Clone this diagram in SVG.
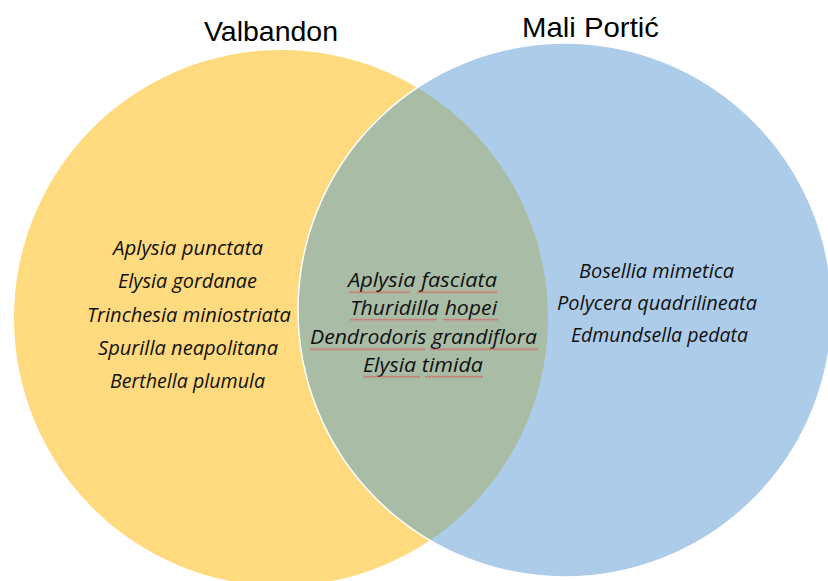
<svg xmlns="http://www.w3.org/2000/svg" width="828" height="581" viewBox="0 0 828 581">
  <style>
    .title { font-family: "Liberation Sans", Arial, sans-serif; font-size: 28px; fill: #000; }
    .sp { font-family: "Open Sans", "Noto Sans", sans-serif; font-style: italic; font-size: 20px; fill: #111; }
    .wave { fill: url(#wave); }
  </style>
  <defs>
    <clipPath id="clipBlue">
      <ellipse cx="565" cy="310" rx="267" ry="267"/>
    </clipPath>
    <pattern id="wave" x="0" y="0" width="4" height="3" patternUnits="userSpaceOnUse">
      <path d="M0 0.6 L2 2.4 L4 0.6" fill="none" stroke="#E04646" stroke-width="0.9"/>
    </pattern>
  </defs>
  <rect width="828" height="581" fill="#FFFFFF"/>

  <g id="set-valbandon">
    <ellipse cx="281" cy="318" rx="267" ry="268" fill="#FFDA7E"/>
  </g>
  <g id="set-mali-portic">
    <ellipse cx="565" cy="310" rx="267" ry="267" fill="#ADCCEA"/>
  </g>
  <g id="intersection">
    <ellipse cx="281" cy="318" rx="267" ry="268" fill="#A9BCA6" clip-path="url(#clipBlue)"/>
    <ellipse cx="565" cy="310" rx="267" ry="267" fill="none" stroke="#FFFFFF" stroke-width="1.5"/>
  </g>

  <g id="titles">
    <text class="title" x="204" y="41" textLength="134" lengthAdjust="spacingAndGlyphs">Valbandon</text>
    <text class="title" x="522" y="37" textLength="137" lengthAdjust="spacingAndGlyphs">Mali Portić</text>
  </g>

  <g id="valbandon-only">
    <text class="sp" x="113" y="255" textLength="150" lengthAdjust="spacingAndGlyphs">Aplysia punctata</text>
    <text class="sp" x="118" y="288" textLength="139" lengthAdjust="spacingAndGlyphs">Elysia gordanae</text>
    <text class="sp" x="87" y="322" textLength="204" lengthAdjust="spacingAndGlyphs">Trinchesia miniostriata</text>
    <text class="sp" x="98" y="355" textLength="180" lengthAdjust="spacingAndGlyphs">Spurilla neapolitana</text>
    <text class="sp" x="110" y="388" textLength="155" lengthAdjust="spacingAndGlyphs">Berthella plumula</text>
  </g>

  <g id="shared">
    <text class="sp" x="348" y="287" textLength="149" lengthAdjust="spacingAndGlyphs">Aplysia fasciata</text>
    <text class="sp" x="350" y="315" textLength="147" lengthAdjust="spacingAndGlyphs">Thuridilla hopei</text>
    <text class="sp" x="310" y="344" textLength="227" lengthAdjust="spacingAndGlyphs">Dendrodoris grandiflora</text>
    <text class="sp" x="363" y="372" textLength="120" lengthAdjust="spacingAndGlyphs">Elysia timida</text>
    <g id="spellcheck-underlines">
      <rect class="wave" x="349" y="290.5" width="61" height="3"/>
      <rect class="wave" x="417" y="290.5" width="80" height="3"/>
      <rect class="wave" x="350" y="318.5" width="87" height="3"/>
      <rect class="wave" x="443" y="318.5" width="55" height="3"/>
      <rect class="wave" x="310" y="347.5" width="115" height="3"/>
      <rect class="wave" x="430" y="347.5" width="108" height="3"/>
      <rect class="wave" x="363" y="375.5" width="57" height="3"/>
      <rect class="wave" x="425" y="375.5" width="58" height="3"/>
    </g>
  </g>

  <g id="mali-portic-only">
    <text class="sp" x="579" y="278" textLength="155" lengthAdjust="spacingAndGlyphs">Bosellia mimetica</text>
    <text class="sp" x="557" y="310" textLength="200" lengthAdjust="spacingAndGlyphs">Polycera quadrilineata</text>
    <text class="sp" x="571" y="342" textLength="177" lengthAdjust="spacingAndGlyphs">Edmundsella pedata</text>
  </g>
</svg>
